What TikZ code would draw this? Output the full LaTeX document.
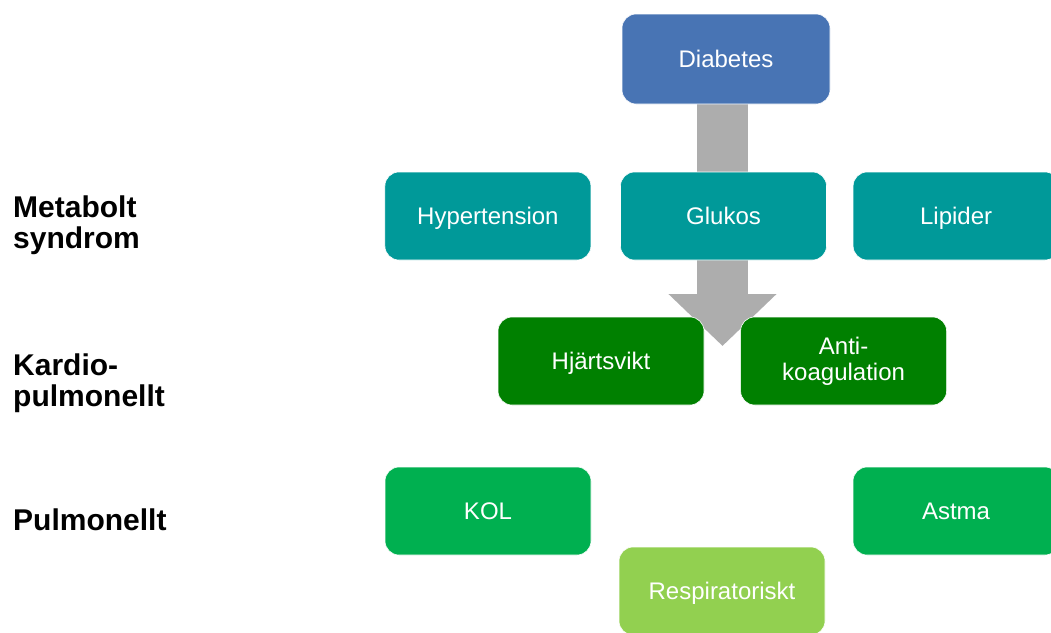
\documentclass[tikz,border=0pt]{standalone}
\usepackage{fontspec}
\setmainfont{Liberation Sans}
\usetikzlibrary{positioning, arrows.meta}

\definecolor{diabblue}{HTML}{4874B4}
\definecolor{metateal}{HTML}{009999}
\definecolor{cardgreen}{HTML}{008000}
\definecolor{pulmgreen}{HTML}{00B050}
\definecolor{respgreen}{HTML}{92D050}
\definecolor{arrowgray}{HTML}{ADADAD}

\begin{document}
\begin{tikzpicture}[
    x=1pt, y=-1pt,
    node distance=29pt,
    boxbase/.style={rectangle, rounded corners=14pt, draw=white, line width=0.6pt,
      minimum width=206pt, minimum height=88pt, inner sep=0pt, align=center,
      text=white, font=\fontsize{24}{26}\selectfont},
    box/.style={boxbase, text height=19pt, text depth=3pt},
    diab/.style={box, fill=diabblue, minimum width=208pt, minimum height=90pt},
    metab/.style={box, fill=metateal},
    cardio/.style={box, fill=cardgreen},
    cardiotwo/.style={boxbase, fill=cardgreen},
    pulm/.style={box, fill=pulmgreen},
    resp/.style={box, fill=respgreen},
    grouplabel/.style={anchor=base west, align=left, inner sep=0pt,
      font=\fontsize{30}{31}\selectfont\bfseries},
    bigarrow/.style={draw=arrowgray, line width=51pt,
      -{Triangle[width=105pt, length=52pt]}}
  ]

  \useasboundingbox (0,0) rectangle (1051,632);
  \clip (0,0) rectangle (1051,632);

  % --- GROUP LABELS (anchored at the last line) ---
  \node[grouplabel] (lmeta) at (13,248) {Metabolt\\syndrom};
  \node[grouplabel] (lcard) at (13,406) {Kardio-\\pulmonellt};
  \node[grouplabel] (lpulm) at (13,530) {Pulmonellt};

  % --- ARROW (behind the boxes) ---
  \coordinate (tip) at (722.5,346);
  \coordinate (top) at (722.5,100);
  \draw[bigarrow] (top) -- (tip);

  % --- BOXES ---
  \node[diab] (diabetes) at (726,59) {Diabetes};

  \node[metab] (glukos) at (723.5,216) {Glukos};
  \node[metab, left=29pt of glukos] (hyper) {Hypertension};
  \node[metab, right=26pt of glukos] (lipider) {Lipider};

  \node[cardio] (hjart) at (601,361) {Hjärtsvikt};
  \node[cardiotwo, right=36pt of hjart] (antikoag) {Anti-\\koagulation};

  \node[pulm] (kol) at (488,511) {KOL};
  \node[pulm] (astma) at (956,511) {Astma};

  \node[resp] (resp) at (722,591) {Respiratoriskt};

\end{tikzpicture}
\end{document}
